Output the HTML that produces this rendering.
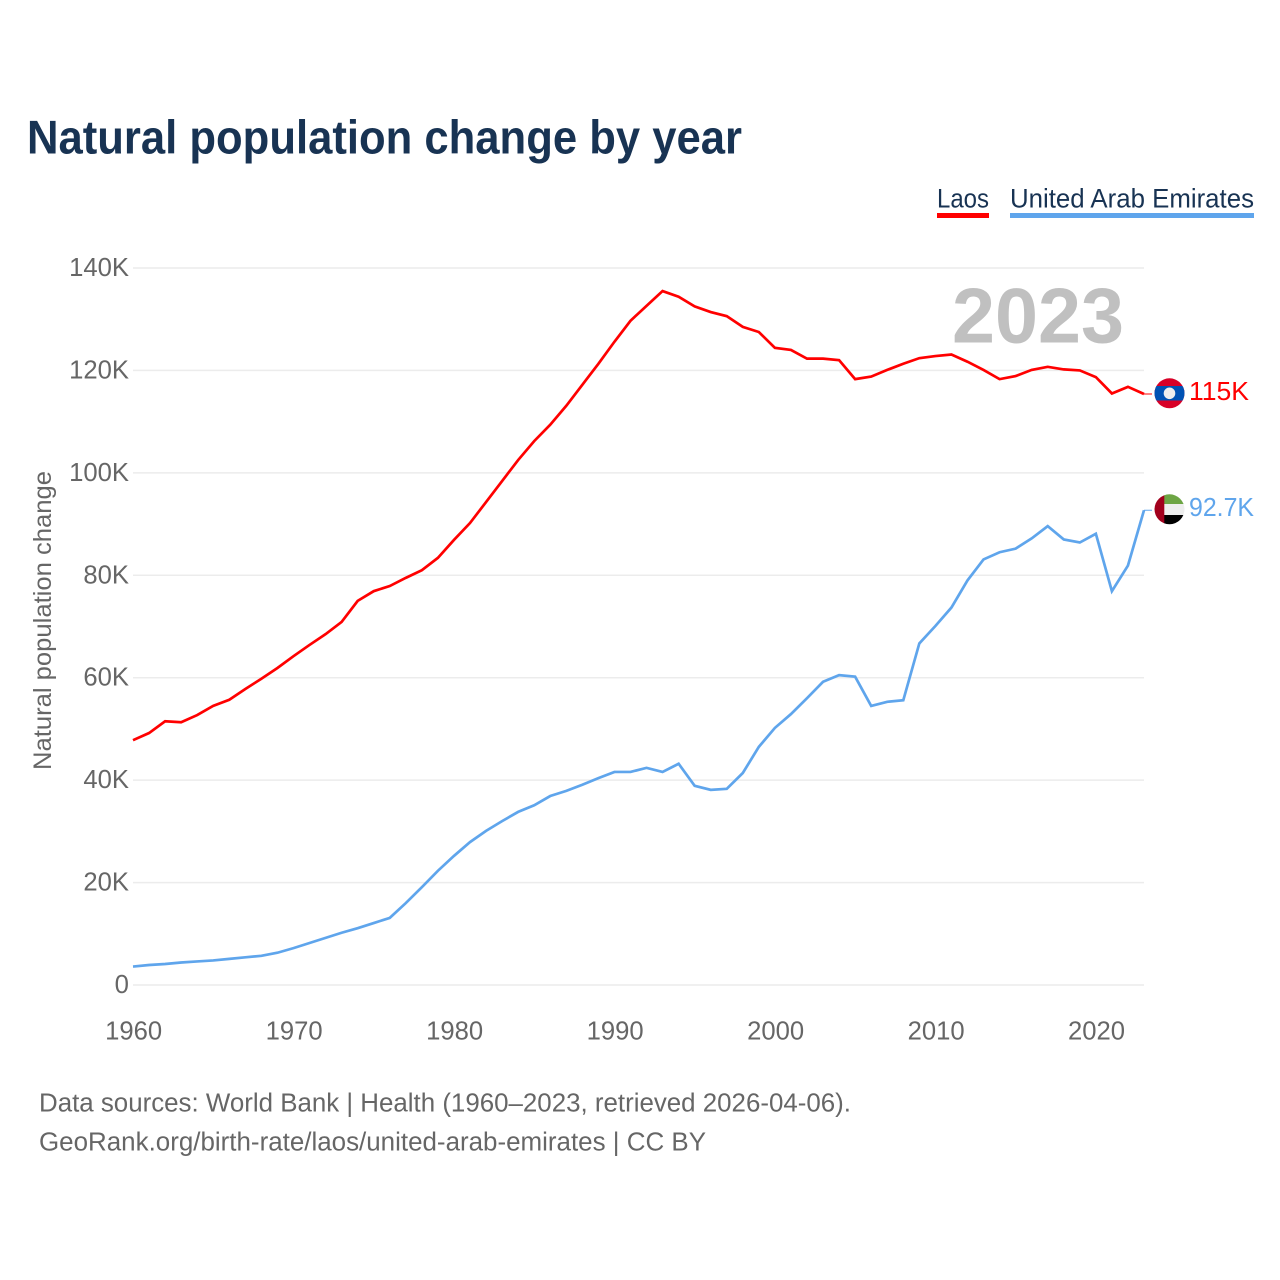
<!DOCTYPE html>
<html lang="en">
<head>
<meta charset="utf-8">
<title>Natural population change by year</title>
<style>
html,body{margin:0;padding:0;background:#fff;width:1280px;height:1280px;overflow:hidden}
svg{display:block}
text{font-family:"Liberation Sans",sans-serif}
</style>
</head>
<body>
<svg id="chart" width="1280" height="1280" viewBox="0 0 1280 1280" xmlns="http://www.w3.org/2000/svg">
<defs>
<clipPath id="clip-laos"><circle cx="1169.5" cy="393.3" r="15"/></clipPath>
<clipPath id="clip-uae"><circle cx="1169.5" cy="509.3" r="15"/></clipPath>
</defs>
<rect width="1280" height="1280" fill="#fff"/>
<text x="27" y="153.5" font-size="47" font-weight="700" fill="#183353" textLength="715" lengthAdjust="spacingAndGlyphs">Natural population change by year</text>

<g>
<text x="937" y="207.5" font-size="27" fill="#183353" textLength="52" lengthAdjust="spacingAndGlyphs">Laos</text>
<rect x="937" y="213" width="52" height="5" fill="#ff0000"/>
</g>
<g>
<text x="1010" y="207.5" font-size="27" fill="#183353" textLength="244" lengthAdjust="spacingAndGlyphs">United Arab Emirates</text>
<rect x="1010" y="213" width="244" height="5" fill="#5fa5ec"/>
</g>

<g id="grid"></g>
<g id="y-ticks"></g>
<g id="x-ticks"></g>
<text transform="translate(51,770) rotate(-90)" font-size="25" fill="#666" textLength="299" lengthAdjust="spacingAndGlyphs">Natural population change</text>
<text x="952" y="342.5" font-size="78" font-weight="700" fill="#c0c0c0" textLength="172" lengthAdjust="spacingAndGlyphs">2023</text>

<g id="series"></g>

<g clip-path="url(#clip-laos)">
<rect x="1154" y="378" width="31" height="31" fill="#d80027"/>
<rect x="1154" y="386" width="31" height="14.5" fill="#0052b4"/>
<circle cx="1169.5" cy="393.3" r="5.8" fill="#eeeeee"/>
</g>
<g clip-path="url(#clip-uae)">
<rect x="1164" y="494" width="21" height="10" fill="#6da544"/>
<rect x="1164" y="504" width="21" height="11" fill="#eeeeee"/>
<rect x="1164" y="515" width="21" height="10" fill="#000000"/>
<rect x="1154" y="494" width="10.3" height="31" fill="#a2001d"/>
</g>
<text id="label-laos" x="1189" y="400" font-size="25.5" fill="#ff0000" textLength="60" lengthAdjust="spacingAndGlyphs">115K</text>
<text id="label-uae" x="1189" y="516" font-size="25.5" fill="#5fa5ec" textLength="65" lengthAdjust="spacingAndGlyphs">92.7K</text>

<text x="39" y="1111.5" font-size="25.5" fill="#666" textLength="812" lengthAdjust="spacingAndGlyphs">Data sources: World Bank | Health (1960–2023, retrieved 2026-04-06).</text>
<text x="39" y="1150.5" font-size="25.5" fill="#666" textLength="667" lengthAdjust="spacingAndGlyphs">GeoRank.org/birth-rate/laos/united-arab-emirates | CC BY</text>
</svg>
<script>
const startYear = 1960;
const laosValues = [47.8,49.2,51.5,51.3,52.7,54.5,55.7,57.8,59.8,61.9,64.2,66.4,68.5,70.9,75.0,76.9,77.9,79.5,81.0,83.4,86.9,90.2,94.3,98.4,102.5,106.2,109.4,113.1,117.2,121.3,125.6,129.7,132.6,135.5,134.4,132.5,131.4,130.6,128.5,127.5,124.4,124.0,122.3,122.3,122.0,118.3,118.8,120.1,121.3,122.4,122.8,123.1,121.7,120.1,118.3,118.9,120.1,120.7,120.2,120.0,118.7,115.5,116.8,115.4];
const uaeValues = [3.6,3.9,4.1,4.4,4.6,4.8,5.1,5.4,5.7,6.3,7.2,8.2,9.2,10.2,11.1,12.1,13.1,16.0,19.1,22.3,25.2,27.9,30.1,32.0,33.8,35.1,36.9,37.9,39.1,40.4,41.6,41.6,42.4,41.6,43.2,38.9,38.1,38.3,41.4,46.5,50.2,52.9,56.0,59.2,60.5,60.2,54.5,55.3,55.6,66.7,70.1,73.7,79.0,83.1,84.5,85.2,87.2,89.6,87.0,86.4,88.1,76.9,81.9,92.7];
const yTickValues = [0,20,40,60,80,100,120,140];
const xTickValues = [1960,1970,1980,1990,2000,2010,2020];

const NS = 'http://www.w3.org/2000/svg';
const xScale = function (year) { return 133 + (year - 1960) * (1144 - 133) / 63; };
const yScale = function (value) { return 985 - value * (985 - 268) / 140; };

const gridGroup = document.getElementById('grid');
const yGroup = document.getElementById('y-ticks');
const xGroup = document.getElementById('x-ticks');
const seriesGroup = document.getElementById('series');

yTickValues.forEach(function (v) {
  const line = document.createElementNS(NS, 'line');
  
  
  line.setAttribute('x1', 133);
  line.setAttribute('x2', 1144);
  line.setAttribute('y1', yScale(v));
  line.setAttribute('y2', yScale(v));
  line.setAttribute('stroke', '#ececec');
  line.setAttribute('stroke-width', 1.5);
  gridGroup.appendChild(line);

  const label = v === 0 ? '0' : v + 'K';
  const t = document.createElementNS(NS, 'text');
  
  
  t.setAttribute('x', 129);
  t.setAttribute('y', yScale(v) + 8);
  t.setAttribute('text-anchor', 'end');
  t.setAttribute('font-size', 25.5);
  t.setAttribute('fill', '#666');
  t.setAttribute('textLength', String(v).length * 14.3 + (v === 0 ? 0 : 17));
  t.setAttribute('lengthAdjust', 'spacingAndGlyphs');
  t.textContent = label;
  yGroup.appendChild(t);
});

xTickValues.forEach(function (year) {
  const t = document.createElementNS(NS, 'text');
  
  
  t.setAttribute('x', xScale(year) + 0.7);
  t.setAttribute('y', 1039.5);
  t.setAttribute('text-anchor', 'middle');
  t.setAttribute('font-size', 25.5);
  t.setAttribute('fill', '#666');
  t.setAttribute('textLength', 57);
  t.setAttribute('lengthAdjust', 'spacingAndGlyphs');
  t.textContent = year;
  xGroup.appendChild(t);
});

function linePoints(values) {
  return values.map(function (v, i) {
    return xScale(startYear + i).toFixed(2) + ',' + yScale(v).toFixed(2);
  }).join(' ');
}

const uaeLine = document.createElementNS(NS, 'polyline');


uaeLine.setAttribute('points', linePoints(uaeValues));
uaeLine.setAttribute('fill', 'none');
uaeLine.setAttribute('stroke', '#5fa5ec');
uaeLine.setAttribute('stroke-width', 2.7);
seriesGroup.appendChild(uaeLine);

const laosLine = document.createElementNS(NS, 'polyline');


laosLine.setAttribute('points', linePoints(laosValues));
laosLine.setAttribute('fill', 'none');
laosLine.setAttribute('stroke', '#ff0000');
laosLine.setAttribute('stroke-width', 2.7);
seriesGroup.appendChild(laosLine);

const laosConnector = document.createElementNS(NS, 'line');


laosConnector.setAttribute('x1', xScale(2023));
laosConnector.setAttribute('x2', 1152);
laosConnector.setAttribute('y1', yScale(laosValues[laosValues.length - 1]));
laosConnector.setAttribute('y2', yScale(laosValues[laosValues.length - 1]));
laosConnector.setAttribute('stroke', '#ff0000');
laosConnector.setAttribute('stroke-width', 1);
seriesGroup.appendChild(laosConnector);

const uaeConnector = document.createElementNS(NS, 'line');


uaeConnector.setAttribute('x1', xScale(2023));
uaeConnector.setAttribute('x2', 1152);
uaeConnector.setAttribute('y1', yScale(uaeValues[uaeValues.length - 1]));
uaeConnector.setAttribute('y2', yScale(uaeValues[uaeValues.length - 1]));
uaeConnector.setAttribute('stroke', '#5fa5ec');
uaeConnector.setAttribute('stroke-width', 1);
seriesGroup.appendChild(uaeConnector);
</script>
</body>
</html>
